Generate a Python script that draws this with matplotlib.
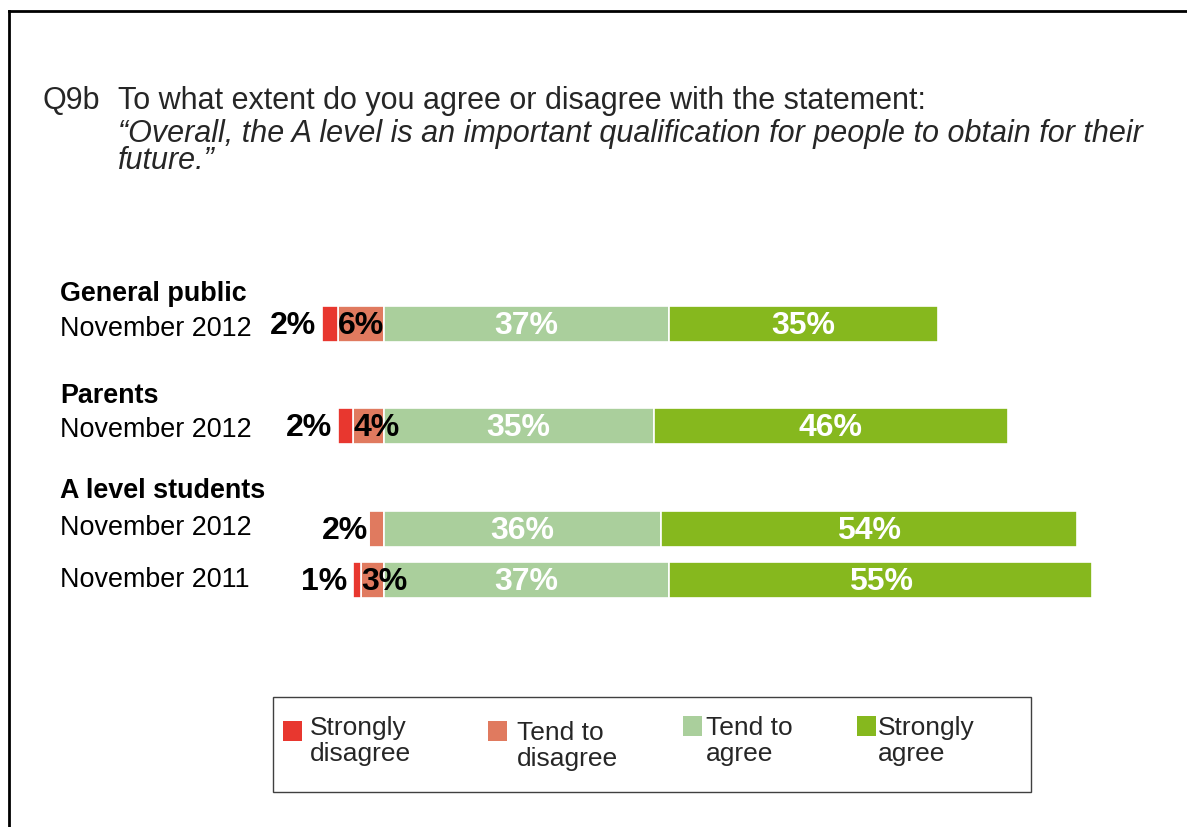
import numpy as np
import matplotlib.pyplot as plt
from matplotlib.patches import Rectangle

plt.rcParams['font.family'] = ['Liberation Sans', 'DejaVu Sans']

# survey rows, top to bottom
groups = ['General public', 'Parents', 'A level students']
rows = ['November 2012', 'November 2012', 'November 2012', 'November 2011']
categories = ['Strongly\ndisagree', 'Tend to\ndisagree', 'Tend to\nagree', 'Strongly\nagree']
strongly_disagree = [2, 2, 0, 1]
tend_disagree = [6, 4, 2, 3]
tend_agree = [37, 35, 36, 37]
strongly_agree = [35, 46, 54, 55]

colors = ['#E8372F', '#E07A5F', '#AACF9C', '#86B81E']
text_col = '#262626'

W, H = 1187, 827
fig = plt.figure(figsize=(W / 100, H / 100), dpi=100)

# canvas in pixel units for title, row labels, legend
cv = fig.add_axes([0, 0, 1, 1])
cv.set_xlim(0, W)
cv.set_ylim(H, 0)
cv.axis('off')

# bar axes: x in percent, zero at the disagree/agree split
zero_px, px_per_pct = 384, 7.7
ax = fig.add_axes([0, 0, 1, 1])
ax.set_xlim(-zero_px / px_per_pct, (W - zero_px) / px_per_pct)
ax.set_ylim(H, 0)
ax.axis('off')
ax.patch.set_alpha(0)

# frame lines
cv.plot([9, 9], [H, 11], color='black', lw=2, solid_capstyle='projecting')
cv.plot([9, W], [11, 11], color='black', lw=2, solid_capstyle='projecting')

# question text
fs_title = 22
cv.text(43, 101, 'Q9b', fontsize=fs_title, color=text_col, va='center')
cv.text(118, 101, 'To what extent do you agree or disagree with the statement:',
        fontsize=fs_title, color=text_col, va='center')
cv.text(118, 134, '\u201cOverall, the A level is an important qualification for people to obtain for their',
        fontsize=fs_title, color=text_col, va='center', style='italic')
cv.text(118, 161, 'future.\u201d', fontsize=fs_title, color=text_col, va='center', style='italic')

# row labels
group_y = [294, 396, 491]
label_y = [329, 430, 528, 580]
for g, y in zip(groups, group_y):
    cv.text(60, y, g, fontsize=19.4, fontweight='bold', color='black', va='center')
for r, y in zip(rows, label_y):
    cv.text(60, y, r, fontsize=19.4, color='black', va='center')

# stacked bars
row_y = [324, 426, 529, 580]
bar_h = 36
sd = np.array(strongly_disagree)
td = np.array(tend_disagree)
ta = np.array(tend_agree)
sa = np.array(strongly_agree)

kw = dict(height=bar_h, edgecolor='white', linewidth=1.2)
ax.barh(row_y, -td, color=colors[1], **kw)
ax.barh(row_y, -sd, left=-td, color=colors[0], **kw)
ax.barh(row_y, ta, color=colors[2], **kw)
ax.barh(row_y, sa, left=ta, color=colors[3], **kw)

fs_val = 23
for y, a, b, c, d in zip(row_y, sd, td, ta, sa):
    y = y + 2
    ax.text(c / 2, y, f'{c}%', color='white', fontsize=fs_val, fontweight='bold',
            ha='center', va='center')
    ax.text(c + d / 2, y, f'{d}%', color='white', fontsize=fs_val, fontweight='bold',
            ha='center', va='center')
    if a > 0:
        ax.text(-b, y, f'{b}%', color='black', fontsize=fs_val, fontweight='bold',
                ha='left', va='center')
        ax.text(-(a + b) - 0.8, y, f'{a}%', color='black', fontsize=fs_val,
                fontweight='bold', ha='right', va='center')
    else:
        ax.text(-b, y, f'{b}%', color='black', fontsize=fs_val, fontweight='bold',
                ha='right', va='center')

# legend box
cv.add_patch(Rectangle((273, 697), 758, 95, facecolor='white', edgecolor='#404040', lw=1))
leg_sq = [(283, 721), (488, 721), (683, 716), (857, 716)]
leg_txt = [(310, 716), (517, 721), (706, 716), (878, 716)]
for cat, col, (sx, sy), (tx, ty) in zip(categories, colors, leg_sq, leg_txt):
    cv.add_patch(Rectangle((sx, sy), 19, 20, facecolor=col, edgecolor='none'))
    cv.text(tx, ty, cat, fontsize=19, color=text_col, va='top', linespacing=1.1)

fig.savefig('out.png', dpi=100)
